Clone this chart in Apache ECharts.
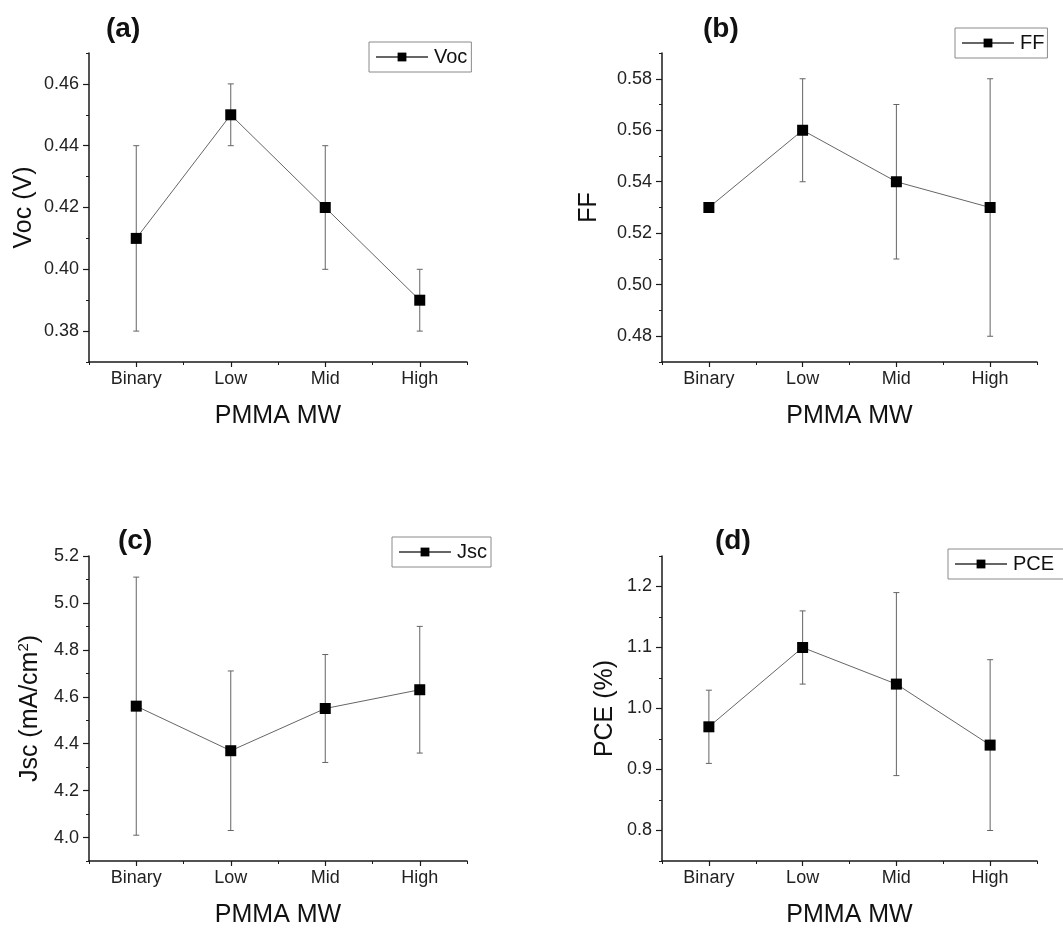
<!DOCTYPE html>
<html>
<head>
<meta charset="utf-8">
<title>PMMA MW device parameters</title>
<script src="https://cdn.jsdelivr.net/npm/echarts@6/dist/echarts.min.js"></script>
<style>
  html, body { margin: 0; padding: 0; background: #fff; }
  #chart { width: 1063px; height: 929px; }
</style>
</head>
<body>
<div id="chart"></div>
<script>
// Categories on every x axis
const categories = ['Binary', 'Low', 'Mid', 'High'];

// (a) open-circuit voltage, mean and error-bar ends
const vocMean = [0.41, 0.45, 0.42, 0.39];
const vocLow  = [0.38, 0.44, 0.40, 0.38];
const vocHigh = [0.44, 0.46, 0.44, 0.40];

// (b) fill factor
const ffMean = [0.53, 0.56, 0.54, 0.53];
const ffLow  = [0.53, 0.54, 0.51, 0.48];
const ffHigh = [0.53, 0.58, 0.57, 0.58];

// (c) short-circuit current density
const jscMean = [4.56, 4.37, 4.55, 4.63];
const jscLow  = [4.01, 4.03, 4.32, 4.36];
const jscHigh = [5.11, 4.71, 4.78, 4.90];

// (d) power conversion efficiency
const pceMean = [0.97, 1.10, 1.04, 0.94];
const pceLow  = [0.91, 1.04, 0.89, 0.80];
const pceHigh = [1.03, 1.16, 1.19, 1.08];

// Major tick labels for each y axis
const vocTicks = [0.38, 0.40, 0.42, 0.44, 0.46];
const ffTicks  = [0.48, 0.50, 0.52, 0.54, 0.56, 0.58];
const jscTicks = [4.0, 4.2, 4.4, 4.6, 4.8, 5.0, 5.2];
const pceTicks = [0.8, 0.9, 1.0, 1.1, 1.2];

const FONT = '"Liberation Sans", Arial, Helvetica, sans-serif';
const AXIS_COLOR = '#1a1a1a';
const LINE_COLOR = '#666';
const BAR_COLOR = '#646464';

// Minor ticks sit halfway between majors, plus one step past each end
function minorTicks(ticks, min, max) {
  const step = ticks[1] - ticks[0];
  const out = [];
  for (let i = -1; i < ticks.length; i++) {
    const v = ticks[0] + (i + 0.5) * step;
    if (v >= min - 1e-9 && v <= max + 1e-9) out.push(+v.toFixed(4));
  }
  return out;
}

const panels = [
  { tag: '(a)', name: 'Voc', yName: 'Voc (V)', mean: vocMean, low: vocLow, high: vocHigh,
    ticks: vocTicks, min: 0.37, max: 0.47, digits: 2,
    grid: { left: 89, top: 53, width: 378, height: 309 }, nameGap: 52,
    title: { left: 106, top: 15 }, legend: { left: 369, top: 42, padRight: 4 } },
  { tag: '(b)', name: 'FF', yName: 'FF', mean: ffMean, low: ffLow, high: ffHigh,
    ticks: ffTicks, min: 0.47, max: 0.59, digits: 2,
    grid: { left: 662, top: 53, width: 375, height: 309 }, nameGap: 60,
    title: { left: 703, top: 15 }, legend: { left: 955, top: 28, padRight: 3 } },
  { tag: '(c)', name: 'Jsc', yName: '{n|Jsc (mA/cm}{s|2}{n|)}', mean: jscMean, low: jscLow, high: jscHigh,
    ticks: jscTicks, min: 3.9, max: 5.2, digits: 1,
    grid: { left: 89, top: 556, width: 378, height: 309 }, nameGap: 44,
    title: { left: 118, top: 527 }, legend: { left: 392, top: 537, padRight: 4 } },
  { tag: '(d)', name: 'PCE', yName: 'PCE (%)', mean: pceMean, low: pceLow, high: pceHigh,
    ticks: pceTicks, min: 0.75, max: 1.25, digits: 1,
    grid: { left: 662, top: 556, width: 375, height: 309 }, nameGap: 44,
    title: { left: 715, top: 527 }, legend: { left: 948, top: 549, padRight: 12 } }
];

// Vertical error bar with short caps, placed through the axis scales
function errorBar(params, api) {
  const x = api.value(0);
  const lo = api.coord([x, api.value(1)]);
  const hi = api.coord([x, api.value(2)]);
  const cap = 3;
  const style = { stroke: BAR_COLOR, lineWidth: 1 };
  return {
    type: 'group',
    children: [
      { type: 'line', shape: { x1: lo[0], y1: lo[1], x2: hi[0], y2: hi[1] }, style },
      { type: 'line', shape: { x1: hi[0] - cap, y1: hi[1], x2: hi[0] + cap, y2: hi[1] }, style },
      { type: 'line', shape: { x1: lo[0] - cap, y1: lo[1], x2: lo[0] + cap, y2: lo[1] }, style }
    ]
  };
}

const option = {
  animation: false,
  backgroundColor: '#fff',
  textStyle: { fontFamily: FONT, color: '#1a1a1a' },
  title: [], grid: [], xAxis: [], yAxis: [], series: [], legend: []
};

panels.forEach((p, i) => {
  option.grid.push(Object.assign({ containLabel: false }, p.grid));

  option.title.push({
    text: p.tag, left: p.title.left, top: p.title.top, padding: 0,
    textStyle: { fontFamily: FONT, fontWeight: 'bold', fontSize: 28, color: '#111' }
  });

  // main category axis: labels and ticks centred on each category
  option.xAxis.push({
    type: 'category', gridIndex: i, data: categories, boundaryGap: true, position: 'bottom',
    name: 'PMMA MW', nameLocation: 'middle', nameGap: 42,
    nameTextStyle: { fontFamily: FONT, fontSize: 25, color: '#111' },
    axisLine: { show: true, lineStyle: { color: AXIS_COLOR, width: 1.5 } },
    axisTick: { show: true, alignWithLabel: true, interval: 0, length: 5, lineStyle: { color: AXIS_COLOR, width: 1.2 } },
    axisLabel: { show: true, interval: 0, margin: 8, fontFamily: FONT, fontSize: 18, color: '#222' },
    splitLine: { show: false }
  });
  // companion axis carrying the short ticks at category boundaries
  option.xAxis.push({
    type: 'category', gridIndex: i, data: categories, boundaryGap: true, position: 'bottom', offset: 0,
    axisLine: { show: false },
    axisTick: { show: true, alignWithLabel: false, interval: 0, length: 3, lineStyle: { color: AXIS_COLOR, width: 1 } },
    axisLabel: { show: false }, splitLine: { show: false }
  });

  option.yAxis.push({
    type: 'value', gridIndex: i, min: p.min, max: p.max, position: 'left',
    name: p.yName, nameLocation: 'middle', nameGap: p.nameGap, nameRotate: 90,
    nameTextStyle: {
      fontFamily: FONT, fontSize: 25, color: '#111',
      rich: {
        n: { fontFamily: FONT, fontSize: 25, color: '#111' },
        s: { fontFamily: FONT, fontSize: 15, color: '#111', padding: [0, 0, 14, 0] }
      }
    },
    axisLine: { show: true, lineStyle: { color: AXIS_COLOR, width: 1.5 } },
    axisTick: { show: true, length: 6, customValues: p.ticks, lineStyle: { color: AXIS_COLOR, width: 1.2 } },
    axisLabel: {
      show: true, margin: 10, customValues: p.ticks, fontFamily: FONT, fontSize: 18, color: '#222',
      formatter: v => Number(v).toFixed(p.digits)
    },
    splitLine: { show: false }
  });
  option.yAxis.push({
    type: 'value', gridIndex: i, min: p.min, max: p.max, position: 'left', offset: 0,
    axisLine: { show: false },
    axisTick: { show: true, length: 3, customValues: minorTicks(p.ticks, p.min, p.max), lineStyle: { color: AXIS_COLOR, width: 1 } },
    axisLabel: { show: false }, splitLine: { show: false }
  });

  option.series.push({
    type: 'custom', name: p.name + ' error', xAxisIndex: 2 * i, yAxisIndex: 2 * i,
    renderItem: errorBar,
    encode: { x: 0, y: [1, 2] },
    data: categories.map((c, k) => [k, p.low[k], p.high[k]]),
    z: 2, silent: true
  });
  option.series.push({
    type: 'line', name: p.name, xAxisIndex: 2 * i, yAxisIndex: 2 * i,
    data: p.mean, symbol: 'rect', symbolSize: 11,
    itemStyle: { color: '#000' },
    lineStyle: { color: LINE_COLOR, width: 1 },
    z: 3, silent: true
  });

  option.legend.push({
    data: [p.name], left: p.legend.left, top: p.legend.top,
    orient: 'horizontal', itemWidth: 52, itemHeight: 11, itemGap: 0,
    padding: [5, p.legend.padRight, 5, 6], borderColor: '#8a8a8a', borderWidth: 1,
    selectedMode: false,
    textStyle: { fontFamily: FONT, fontSize: 20, color: '#111', padding: [0, 0, 0, 1] }
  });
});

const chart = echarts.init(document.getElementById('chart'), null, { renderer: 'canvas' });
chart.setOption(option);
</script>
</body>
</html>
